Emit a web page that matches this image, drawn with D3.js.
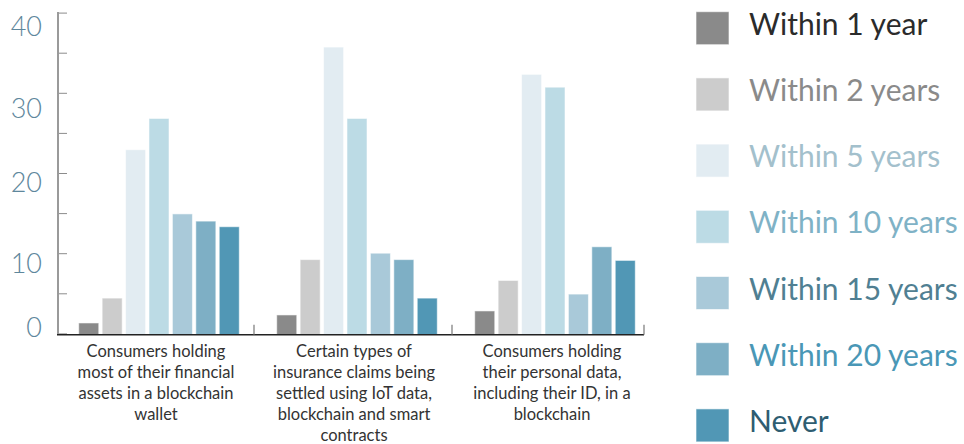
<!DOCTYPE html>
<html><head><meta charset="utf-8">
<script src="https://cdn.jsdelivr.net/npm/d3@7"></script>
<style>html,body{margin:0;padding:0;background:#fff}svg{display:block}</style>
</head><body>
<svg id="c" width="964" height="444"></svg>
<script>
const categories = [
  "Consumers holding|most of their financial|assets in a blockchain|wallet",
  "Certain types of|insurance claims being|settled using IoT data,|blockchain and smart|contracts",
  "Consumers holding|their personal data,|including their ID, in a|blockchain"
];
const seriesNames = ["Within 1 year","Within 2 years","Within 5 years","Within 10 years","Within 15 years","Within 20 years","Never"];
const within1 = [1.3, 2.3, 2.8];
const within2 = [4.4, 9.2, 6.6];
const within5 = [22.9, 35.7, 32.3];
const within10 = [26.8, 26.8, 30.7];
const within15 = [14.9, 10.0, 4.9];
const within20 = [14.0, 9.2, 10.8];
const never = [13.3, 4.4, 9.1];
const yTickLabels = [0, 10, 20, 30, 40];

const seriesValues = [within1, within2, within5, within10, within15, within20, never];
const barColors = ["#8a8a8a","#cccccc","#e2ecf2","#bcdbe5","#a9c9d9","#7eafc5","#5197b5"];
const textColors = ["#2b2b2b","#8a8a8a","#a3c0cc","#7fb2c6","#507f92","#4a97b6","#2e5d71"];

const svg = d3.select("#c");
const y = d3.scaleLinear().domain([0, 40]).range([333.4, 12.6]);
const xg = d3.scaleBand().domain(categories).range([57, 651]);
const xb = d3.scaleBand().domain(seriesNames).range([0, xg.bandwidth()]).paddingInner(0.145).paddingOuter(0.8).align(0.58);
const axisX = 58, plotRight = 644, baseY = 334.7;

// bars
categories.forEach((c, ci) => {
  const g = svg.append("g").attr("transform", `translate(${xg(c)},0)`);
  seriesNames.forEach((s, si) => {
    const v = seriesValues[si][ci];
    g.append("rect")
      .attr("x", xb(s)).attr("width", xb.bandwidth())
      .attr("y", y(v)).attr("height", baseY - y(v))
      .attr("fill", barColors[si])
      .attr("stroke", "rgba(255,255,255,0.55)").attr("stroke-width", 1);
  });
});

// y axis
const yAxis = d3.axisRight(y).tickValues(d3.range(0, 41, 5)).tickSize(9).tickFormat("");
const ya = svg.append("g").attr("transform", `translate(${axisX},0)`).call(yAxis);
ya.select(".domain").remove();
ya.selectAll(".tick line").attr("stroke", "#8c8c8c").attr("stroke-width", 1);
svg.append("line").attr("x1", axisX).attr("x2", axisX).attr("y1", y(40) - 0.5).attr("y2", baseY)
  .attr("stroke", "#9a9a9a").attr("stroke-width", 2);

// y labels
const labelShift = {0: -6, 10: 10, 20: 9, 30: 15, 40: 14};
svg.append("g").selectAll("text").data(yTickLabels).join("text")
  .attr("x", 42).attr("y", d => y(d) + labelShift[d])
  .attr("dy", "0.36em")
  .attr("text-anchor", "end")
  .attr("font-family", "Lato, 'Open Sans', sans-serif")
  .attr("font-weight", 300)
  .attr("font-size", 27)
  .attr("fill", "#5e879c")
  .text(d => d);

// baseline
svg.append("line").attr("x1", axisX - 1).attr("x2", plotRight).attr("y1", baseY).attr("y2", baseY)
  .attr("stroke", "#222").attr("stroke-width", 1.6);
// category separators
const seps = [xg(categories[1]) - 1, xg(categories[2]) - 1, plotRight];
svg.append("g").selectAll("line").data(seps).join("line")
  .attr("x1", d => d).attr("x2", d => d).attr("y1", baseY - 10).attr("y2", baseY)
  .attr("stroke", "#777").attr("stroke-width", 1.2);

// category labels
categories.forEach((c, ci) => {
  const lines = c.split("|");
  const cx = xg(c) + xg.bandwidth() / 2;
  const t = svg.append("text").attr("text-anchor", "middle")
    .attr("font-family", "Lato, sans-serif").attr("font-size", 16.5).attr("font-weight", 400).attr("fill", "#333");
  lines.forEach((l, i) => t.append("tspan").attr("x", cx).attr("y", 357 + i * 21).text(l));
});

// legend
const lg = svg.append("g");
seriesNames.forEach((s, i) => {
  const top = 11.7 + i * 66.2;
  lg.append("rect").attr("x", 696).attr("y", top).attr("width", 33).attr("height", 33)
    .attr("fill", barColors[i]).attr("stroke", "rgba(255,255,255,0.6)").attr("stroke-width", 1);
  lg.append("text").attr("x", 749).attr("y", top + 23)
    .attr("font-family", "Lato, sans-serif").attr("font-size", 30).attr("font-weight", 400).attr("fill", textColors[i])
    .text(s);
});
</script>
</body></html>
